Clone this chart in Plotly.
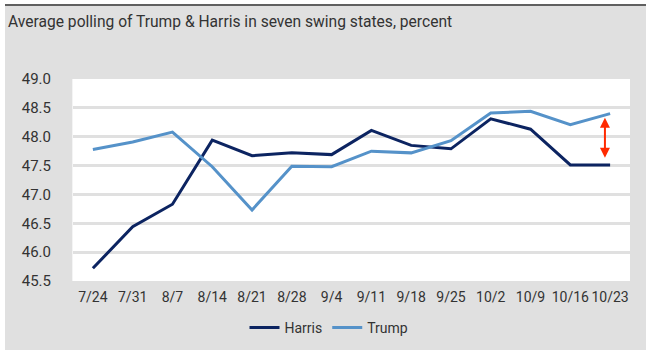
import plotly.graph_objects as go

dates = ["7/24", "7/31", "8/7", "8/14", "8/21", "8/28", "9/4", "9/11",
         "9/18", "9/25", "10/2", "10/9", "10/16", "10/23"]
harris = [45.72, 46.44, 46.83, 47.94, 47.67, 47.72, 47.69, 48.11,
          47.85, 47.79, 48.31, 48.13, 47.51, 47.51]
trump = [47.78, 47.91, 48.08, 47.48, 46.73, 47.49, 47.48, 47.75,
         47.72, 47.93, 48.41, 48.44, 48.21, 48.40]
y_ticks = [45.5, 46.0, 46.5, 47.0, 47.5, 48.0, 48.5, 49.0]

W, H = 646, 356
L, R, T, B = 73, 16, 79, 75
pw, ph = W - L - R, H - T - B

def px(x):
    return (x - L) / pw

def py(y):
    return (H - B - y) / ph

BG = "#e0e0e0"
FONT = "Liberation Sans Narrow, Arial Narrow, Roboto, sans-serif"

fig = go.Figure()
fig.add_trace(go.Scatter(x=dates, y=harris, mode="lines", name="Harris",
                         line=dict(color="#0c2461", width=3)))
fig.add_trace(go.Scatter(x=dates, y=trump, mode="lines", name="Trump",
                         line=dict(color="#5592c9", width=3)))

# double-headed arrow showing the gap at the last point
fig.add_annotation(x=len(dates) - 1.13, y=trump[-1] - 0.07,
                   ax=len(dates) - 1.13, ay=harris[-1] + 0.1,
                   xref="x", yref="y", axref="x", ayref="y",
                   text="", showarrow=True, arrowhead=2, startarrowhead=2,
                   arrowside="end+start", arrowcolor="#ff2a00",
                   arrowwidth=2, arrowsize=1, startarrowsize=1)

fig.add_annotation(x=px(6), y=py(22), xref="paper", yref="paper",
                   xanchor="left", yanchor="middle", showarrow=False,
                   text="Average polling of Trump & Harris in seven swing states, percent",
                   font=dict(size=15.6, color="#333333", family=FONT))

shapes = [
    # white outer strips
    dict(type="rect", xref="paper", yref="paper", x0=px(0), x1=px(W),
         y0=py(0), y1=py(4.5), fillcolor="white", line_width=0, layer="above"),
    dict(type="rect", xref="paper", yref="paper", x0=px(0), x1=px(5),
         y0=py(0), y1=py(H), fillcolor="white", line_width=0, layer="above"),
    dict(type="rect", xref="paper", yref="paper", x0=px(0), x1=px(W),
         y0=py(350), y1=py(H), fillcolor="white", line_width=0, layer="above"),
    # dark top rule
    dict(type="line", xref="paper", yref="paper", x0=px(5), x1=px(W),
         y0=py(5), y1=py(5), line=dict(color="#606060", width=2), layer="above"),
]

fig.update_layout(
    width=W, height=H,
    margin=dict(l=L, r=R, t=T, b=B),
    paper_bgcolor=BG, plot_bgcolor="white",
    font=dict(family=FONT, size=14, color="#333333"),
    showlegend=True,
    legend=dict(orientation="h", x=px(329), xanchor="center", y=py(328),
                yanchor="middle", bgcolor="rgba(0,0,0,0)",
                font=dict(size=14, color="#333333", family=FONT),
                itemwidth=30, tracegroupgap=0),
    shapes=shapes,
    xaxis=dict(type="category", range=[-0.5, len(dates) - 0.5],
               showgrid=False, showline=False, zeroline=False,
               ticks="", ticklabelstandoff=6,
               tickfont=dict(size=14, color="#333333")),
    yaxis=dict(range=[45.5, 49.0], tickvals=y_ticks,
               ticktext=[f"{v:.1f}" for v in y_ticks],
               showgrid=True, gridcolor=BG, gridwidth=3,
               showline=True, linecolor="#f4f4f4", linewidth=1,
               zeroline=False, ticks="", ticklabelstandoff=18,
               tickfont=dict(size=15, color="#333333")),
)

fig.write_html("out.html",
               config={"displayModeBar": False},
               post_script="document.body.style.margin='0';"
                           "document.body.style.overflow='hidden';")
